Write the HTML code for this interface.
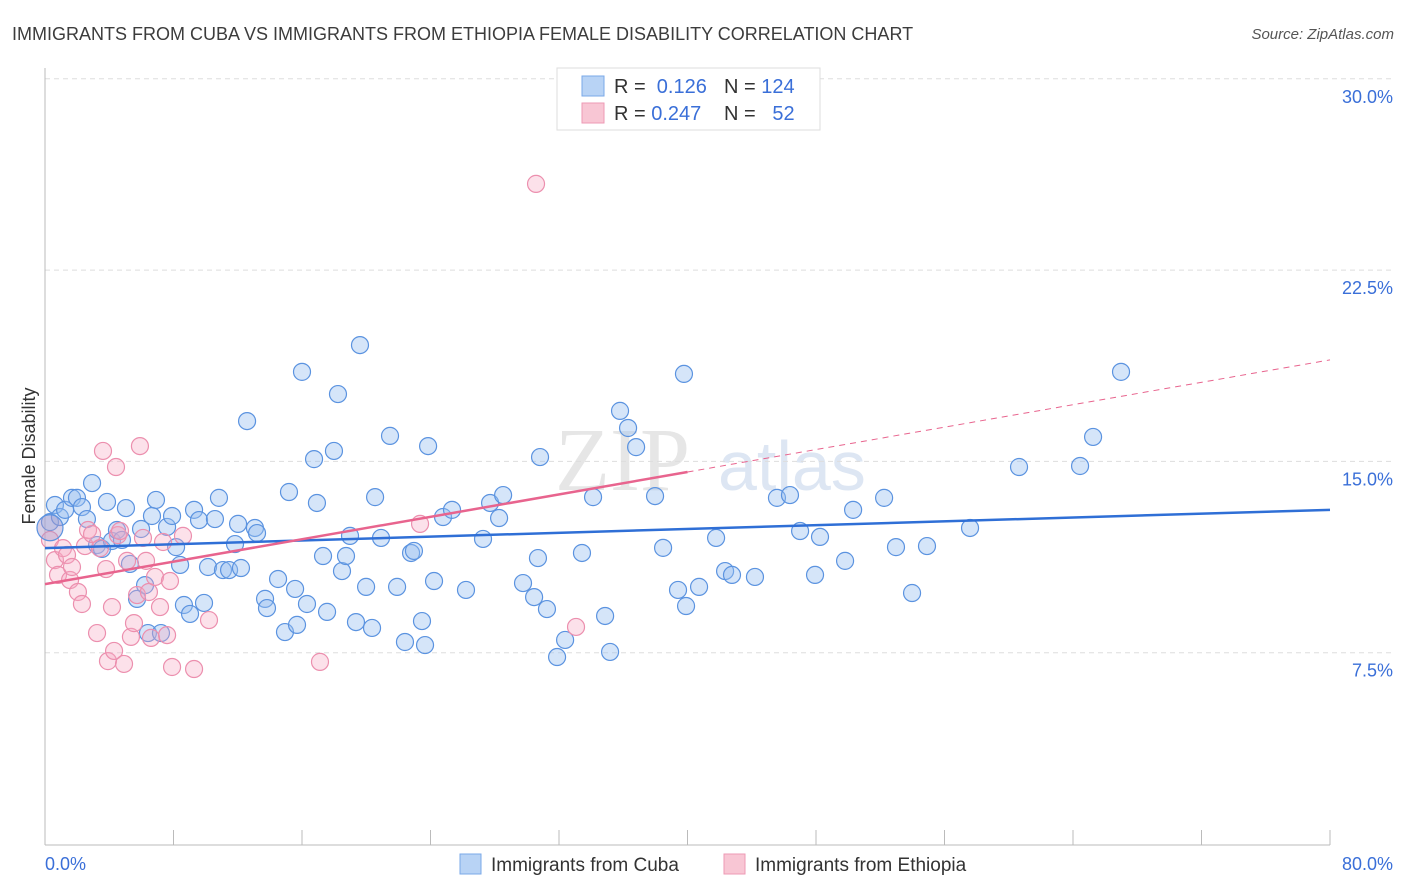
<!DOCTYPE html>
<html><head><meta charset="utf-8"><style>
body{margin:0;background:#fff;font-family:"Liberation Sans",sans-serif;}
svg{display:block}
</style></head><body>
<svg id="chart" width="1406" height="892" xmlns="http://www.w3.org/2000/svg">
<text x="12" y="40" font-size="18" fill="#3c3c3c">IMMIGRANTS FROM CUBA VS IMMIGRANTS FROM ETHIOPIA FEMALE DISABILITY CORRELATION CHART</text>
<text x="1394" y="39" font-size="15" fill="#555" text-anchor="end" font-style="italic">Source: ZipAtlas.com</text>
<text x="555" y="490" font-size="90" fill="#e6e6e6" font-family="Liberation Serif,serif">ZIP</text>
<text x="718" y="490" font-size="70" fill="#dde6f3">atlas</text>
<g id="grid"></g>
<g id="axes"></g>
<text transform="translate(35,456) rotate(-90)" font-size="18" fill="#333" text-anchor="middle">Female Disability</text>
<g id="pts"></g>
<g id="trends"></g>
<g>
<rect x="557" y="68" width="263" height="62" fill="#fff" stroke="#ddd"/>
<rect x="582" y="76" width="22" height="20" fill="#b8d3f5" stroke="#7aa8e8"/>
<rect x="582" y="103" width="22" height="20" fill="#f8c6d4" stroke="#ee9ab4"/>
<text x="614" y="93" font-size="20" fill="#333">R = <tspan fill="#3a6fd8">&#160;0.126</tspan></text>
<text x="724" y="93" font-size="20" fill="#333">N = <tspan fill="#3a6fd8">124</tspan></text>
<text x="614" y="120" font-size="20" fill="#333">R = <tspan fill="#3a6fd8">0.247</tspan></text>
<text x="724" y="120" font-size="20" fill="#333">N = <tspan fill="#3a6fd8">&#160;&#160;52</tspan></text>
</g>
<g>
<rect x="460" y="854" width="21" height="20" fill="#b8d3f5" stroke="#7aa8e8"/>
<text x="491" y="871" font-size="19" fill="#333">Immigrants from Cuba</text>
<rect x="724" y="854" width="21" height="20" fill="#f8c6d4" stroke="#ee9ab4"/>
<text x="755" y="871" font-size="19" fill="#333">Immigrants from Ethiopia</text>
</g>
</svg>
<script>
const yTicks=[7.5,15,22.5,30];
const yTickLabels=["7.5%","15.0%","22.5%","30.0%"];
const xTickLabels=["0.0%","80.0%"];
const cubaX=[0.31,0.62,0.93,1.25,1.68,1.99,2.30,2.61,2.93,3.24,3.55,3.86,4.17,4.48,4.79,5.04,5.29,5.73,5.98,6.23,6.41,6.66,6.91,7.22,7.60,7.91,8.16,8.41,8.65,9.03,9.28,9.59,9.90,10.15,10.58,10.83,11.08,11.46,11.83,12.02,12.20,12.58,13.07,13.20,13.70,13.82,14.51,14.94,15.19,15.57,15.69,16.00,16.31,16.75,16.93,17.31,17.56,17.99,18.24,18.49,18.74,18.99,19.36,19.61,19.99,20.36,20.55,20.92,21.48,21.92,22.41,22.79,22.97,23.47,23.66,23.85,24.22,24.78,25.34,26.21,27.27,27.71,28.27,28.52,29.76,30.45,30.69,30.82,31.25,31.88,32.38,33.43,34.12,34.87,35.18,35.80,36.30,36.80,37.98,38.48,39.41,39.78,39.91,40.72,41.78,42.34,42.77,44.20,45.57,46.38,47.01,47.94,48.25,49.81,50.31,52.24,52.98,53.98,54.91,57.59,60.64,64.44,65.25,66.99];
const cubaY=[12.62,13.29,12.82,13.10,13.57,13.57,13.21,12.74,14.15,11.72,11.57,13.41,11.88,12.31,11.92,13.17,10.98,9.61,12.35,10.15,8.27,12.86,13.49,8.27,12.43,12.86,11.64,10.94,9.37,9.02,13.10,12.70,9.45,10.86,12.74,13.57,10.74,10.74,11.76,12.55,10.82,16.58,12.39,12.19,9.61,9.25,10.39,8.31,13.80,10.00,8.59,18.51,9.41,15.09,13.37,11.29,9.10,15.41,17.64,10.70,11.29,12.08,8.70,19.56,10.08,8.47,13.60,12.00,16.00,10.08,7.92,11.41,11.49,8.74,7.80,15.60,10.31,12.82,13.10,9.96,11.96,13.37,12.78,13.68,10.23,9.68,11.21,15.17,9.21,7.33,8.00,11.41,13.60,8.94,7.53,16.98,16.31,15.56,13.64,11.61,9.96,18.43,9.33,10.08,12.00,10.70,10.55,10.47,13.57,13.68,12.27,10.55,12.04,11.10,13.10,13.57,11.64,9.84,11.68,12.39,14.78,14.82,15.96,18.51];
const ethX=[0.31,0.62,0.81,1.12,1.37,1.56,1.68,2.05,2.30,2.49,2.68,2.93,3.24,3.42,3.61,3.80,3.92,4.17,4.30,4.42,4.54,4.67,4.92,5.11,5.35,5.54,5.73,5.91,6.10,6.29,6.47,6.60,6.85,7.16,7.35,7.60,7.78,7.91,8.59,9.28,10.21,17.12,23.35,30.57,33.06];
const ethY=[11.92,11.13,10.55,11.60,11.33,10.35,10.86,9.88,9.41,11.68,12.31,12.15,8.27,11.60,15.41,10.78,7.17,9.29,7.57,14.78,12.11,12.27,7.06,11.10,8.12,8.66,9.76,15.60,12.00,11.10,9.88,8.08,10.47,9.29,11.84,8.19,10.31,6.94,12.08,6.86,8.78,7.14,12.55,25.88,8.51];
const cubaTrend=[11.60,13.10];
const ethTrend=[10.19,18.98];
const ethSolidEnd=40;
const X=v=>45+v/80*1285, Y=v=>844-v/7.5*191.3;
const NS="http://www.w3.org/2000/svg";
function mk(tag,attrs,parent){const e=document.createElementNS(NS,tag);for(const k in attrs)e.setAttribute(k,attrs[k]);parent.appendChild(e);return e;}
const grid=document.getElementById('grid'),axes=document.getElementById('axes'),pts=document.getElementById('pts'),tr=document.getElementById('trends');
yTicks.forEach((t,i)=>{
 const l=mk('line',{x1:45,x2:1394,y1:Y(t),y2:Y(t),stroke:'#ddd','stroke-dasharray':'5,4'},grid);
 
 
 const tx=mk('text',{x:1393,y:Y(t)+24,'font-size':18,fill:'#3a6fd8','text-anchor':'end'},axes);
 tx.textContent=yTickLabels[i];
 
 
});
const ax=mk('line',{x1:45,x2:1330,y1:845,y2:845,stroke:'#bbb'},axes);


const ay=mk('line',{x1:45,x2:45,y1:68,y2:845,stroke:'#bbb'},axes);


for(let i=0;i<=10;i++){const xx=X(i*8);const tk=mk('line',{x1:xx,x2:xx,y1:830,y2:845,stroke:'#bbb'},axes);
 
 }
[[0,'start'],[80,'end']].forEach((d,i)=>{const tx=mk('text',{x:i?1393:45,y:870,'font-size':18,fill:'#3a6fd8','text-anchor':d[1]},axes);tx.textContent=xTickLabels[i];
 
 });
cubaX.forEach((v,i)=>{const c=mk('circle',{cx:X(v),cy:Y(cubaY[i]),r:8.5,fill:'rgba(150,190,240,0.4)',stroke:'#5b93e0','stroke-width':1.2},pts);
 
 });
ethX.forEach((v,i)=>{const c=mk('circle',{cx:X(v),cy:Y(ethY[i]),r:8.5,fill:'rgba(245,170,195,0.35)',stroke:'#ec8fae','stroke-width':1.2},pts);
 
 });
const big=mk('circle',{cx:X(cubaX[0]),cy:Y(12.4),r:13,fill:'rgba(170,150,200,0.45)',stroke:'#5b93e0','stroke-width':1.2},pts);


const cl=mk('line',{x1:X(0),y1:Y(cubaTrend[0]),x2:X(80),y2:Y(cubaTrend[1]),stroke:'#2f6fd6','stroke-width':2.5},tr);


const em=ethTrend[0]+(ethTrend[1]-ethTrend[0])*ethSolidEnd/80;
const el=mk('line',{x1:X(0),y1:Y(ethTrend[0]),x2:X(ethSolidEnd),y2:Y(em),stroke:'#e8648e','stroke-width':2.5},tr);


const ed=mk('line',{x1:X(ethSolidEnd),y1:Y(em),x2:X(80),y2:Y(ethTrend[1]),stroke:'#e8648e','stroke-width':1,'stroke-dasharray':'6,5'},tr);


</script>
</body></html>
